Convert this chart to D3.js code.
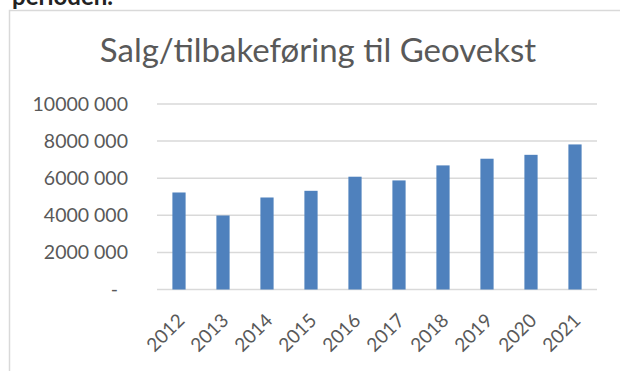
<!DOCTYPE html>
<html>
<head>
  <script src="https://d3js.org/d3.v7.min.js"></script>
  <style>
    body { margin: 0; background: #fff; }
    svg { display: block; font-family: Lato, "Open Sans", sans-serif; }
    .grid line { stroke: #d9d9d9; stroke-width: 1.5px; }
    .ylab { fill: #595959; font-size: 19.5px; }
    .xlab { fill: #595959; font-size: 19px; }
  </style>
</head>
<body>
  <svg id="chart" width="620" height="371"></svg>
  <script>
    const years = ["2012", "2013", "2014", "2015", "2016", "2017", "2018", "2019", "2020", "2021"];
    const sales = [5230000, 3990000, 4960000, 5320000, 6080000, 5880000, 6690000, 7050000, 7260000, 7820000];
    const yTicks = [0, 2000000, 4000000, 6000000, 8000000, 10000000];
    const yTickLabels = ["-", "2000 000", "4000 000", "6000 000", "8000 000", "10000 000"];

    const svg = d3.select("#chart");

    // text of the document above the chart, cut off at the top
    svg.append("text")
      .attr("x", 12).attr("y", 5)
      .attr("font-size", 24)
      .attr("font-weight", "bold")
      .attr("fill", "#222")
      .text("perioden.");

    // chart frame
    svg.append("rect")
      .attr("x", 9.5).attr("y", 10.5)
      .attr("width", 640).attr("height", 400)
      .attr("fill", "#fff")
      .attr("stroke", "#d9d9d9")
      .attr("stroke-width", 1.5);

    svg.append("text")
      .attr("x", 318).attr("y", 62)
      .attr("text-anchor", "middle")
      .attr("font-size", 33)
      .attr("fill", "#595959")
      .text("Salg/tilbakeføring til Geovekst");

    const x = d3.scaleBand()
      .domain(years)
      .range([157, 597])
      .paddingInner(0.7)
      .paddingOuter(0.35);

    const y = d3.scaleLinear()
      .domain([0, 10000000])
      .range([289.5, 104]);

    // gridlines
    svg.append("g").attr("class", "grid")
      .selectAll("line")
      .data(yTicks)
      .join("line")
      .attr("x1", 157).attr("x2", 597)
      .attr("y1", d => y(d)).attr("y2", d => y(d));

    // y labels
    svg.append("g")
      .selectAll("text")
      .data(yTicks)
      .join("text")
      .attr("class", "ylab")
      .attr("x", d => d === 0 ? 118 : 128)
      .attr("y", d => y(d))
      .attr("dy", "0.35em")
      .attr("text-anchor", "end")
      .text((d, i) => yTickLabels[i]);

    // bars
    svg.append("g")
      .selectAll("rect")
      .data(sales)
      .join("rect")
      .attr("x", (d, i) => x(years[i]))
      .attr("y", d => y(d))
      .attr("width", x.bandwidth())
      .attr("height", d => y(0) - y(d))
      .attr("fill", "#4f81bd");

    // rotated year labels
    svg.append("g")
      .selectAll("text")
      .data(years)
      .join("text")
      .attr("class", "xlab")
      .attr("transform", d => `translate(${x(d) + x.bandwidth() / 2 + 2},${317}) rotate(-45)`)
      .attr("dy", "0.35em")
      .attr("text-anchor", "end")
      .text(d => d);
  </script>
</body>
</html>
